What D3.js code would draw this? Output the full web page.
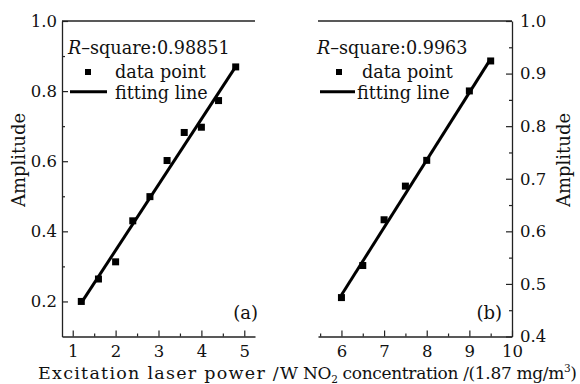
<!DOCTYPE html>
<html>
<head>
<meta charset="utf-8">
<script src="https://cdn.jsdelivr.net/npm/d3@7"></script>
<style>
  body { margin: 0; background: #fff; }
  svg { display: block; font-family: "DejaVu Serif", "Liberation Serif", serif; }
  .tick text { font-family: "DejaVu Serif", "Liberation Serif", serif; }
</style>
</head>
<body>
<div id="chart"></div>
<script>
// data
const powerW = [1.2, 1.6, 2.0, 2.4, 2.8, 3.2, 3.6, 4.0, 4.4, 4.8];
const ampA = [0.200, 0.264, 0.313, 0.430, 0.499, 0.602, 0.682, 0.697, 0.773, 0.869];
const fitA = [[1.2, 0.196], [4.8, 0.870]];

const concNO2 = [6, 6.5, 7, 7.5, 8, 9, 9.5];
const ampB = [0.474, 0.535, 0.622, 0.686, 0.735, 0.867, 0.924];
const fitB = [[6, 0.479], [9.5, 0.928]];

// ticks
const aXTicks = [1, 2, 3, 4, 5];
const aXMinor = [1.5, 2.5, 3.5, 4.5];
const aYTicks = [0.2, 0.4, 0.6, 0.8, 1.0];
const aYMinor = [0.3, 0.5, 0.7, 0.9];
const bXTicks = [6, 7, 8, 9, 10];
const bXMinor = [5.5, 6.5, 7.5, 8.5, 9.5];
const bYTicks = [0.4, 0.5, 0.6, 0.7, 0.8, 0.9, 1.0];
const bYMinor = [0.45, 0.55, 0.65, 0.75, 0.85, 0.95];

const width = 580, height = 384;
const plotTop = 21, plotBottom = 336.5;

const svg = d3.select("#chart").append("svg")
  .attr("width", width).attr("height", height);

// scales
const xA = d3.scaleLinear().domain([0.75, 5.25]).range([62, 255]);
const yA = d3.scaleLinear().domain([0.1, 1.0]).range([plotBottom, plotTop]);
const xB = d3.scaleLinear().domain([5.45, 10]).range([318, 512]);
const yB = d3.scaleLinear().domain([0.4, 1.0]).range([plotBottom, plotTop]);

const fmt1 = d3.format(".1f");

function styleAxis(g) {
  g.select(".domain").attr("stroke", "#222").attr("stroke-width", 1.3);
  g.selectAll(".tick line").attr("stroke", "#222").attr("stroke-width", 1.2);
  g.selectAll(".tick text").attr("fill", "#111").attr("font-size", 16.5);
}

function drawPanel(p) {
  const x = p.x, y = p.y;
  // major x
  const gx = svg.append("g")
    .attr("transform", `translate(0,${plotBottom})`)
    .call(d3.axisBottom(x).tickValues(p.xTicks).tickSize(-6).tickPadding(9).tickSizeOuter(0)
      .tickFormat(d3.format("d")));
  styleAxis(gx);
  const gxm = svg.append("g")
    .attr("transform", `translate(0,${plotBottom})`)
    .call(d3.axisBottom(x).tickValues(p.xMinor).tickSize(-3).tickFormat(""));
  gxm.select(".domain").remove();
  styleAxis(gxm);

  // y axis on one side
  const yx = p.side === "left" ? x.range()[0] : x.range()[1];
  const axisFn = p.side === "left" ? d3.axisLeft : d3.axisRight;
  const gy = svg.append("g")
    .attr("transform", `translate(${yx},0)`)
    .call(axisFn(y).tickValues(p.yTicks).tickSize(-6).tickPadding(p.side === "left" ? 5 : 8)
      .tickSizeOuter(0).tickFormat(fmt1));
  styleAxis(gy);
  const gym = svg.append("g")
    .attr("transform", `translate(${yx},0)`)
    .call(axisFn(y).tickValues(p.yMinor).tickSize(-3).tickFormat(""));
  gym.select(".domain").remove();
  styleAxis(gym);

  // top line
  svg.append("line")
    .attr("x1", x.range()[0]).attr("x2", x.range()[1])
    .attr("y1", plotTop).attr("y2", plotTop)
    .attr("stroke", "#222").attr("stroke-width", 1.3);

  // fitting line
  svg.append("path")
    .datum(p.fit)
    .attr("fill", "none")
    .attr("stroke", "#000")
    .attr("stroke-width", 3)
    .attr("d", d3.line().x(d => x(d[0])).y(d => y(d[1])));

  // data points
  svg.append("g").selectAll("rect")
    .data(p.xs.map((v, i) => [v, p.ys[i]]))
    .join("rect")
    .attr("x", d => x(d[0]) - 3.5)
    .attr("y", d => y(d[1]) - 3.5)
    .attr("width", 7).attr("height", 7)
    .attr("fill", "#000");

  // legend
  const lg = p.legend;
  const r2 = svg.append("text")
    .attr("x", lg.x).attr("y", 54)
    .attr("font-size", 17.6).attr("fill", "#111");
  r2.append("tspan").attr("font-style", "italic").text("R");
  r2.append("tspan").text("\u2013square:" + p.rsq);

  svg.append("rect")
    .attr("x", lg.sq - 3).attr("y", 72 - 3)
    .attr("width", 6).attr("height", 6).attr("fill", "#000");
  svg.append("text")
    .attr("x", lg.tx).attr("y", 78)
    .attr("font-size", 17.6).attr("fill", "#111")
    .text("data point");

  svg.append("line")
    .attr("x1", lg.l0).attr("x2", lg.l1)
    .attr("y1", 91.7).attr("y2", 91.7)
    .attr("stroke", "#000").attr("stroke-width", 3);
  svg.append("text")
    .attr("x", lg.tx2).attr("y", 98.5)
    .attr("font-size", 17.6).attr("fill", "#111")
    .text("fitting line");

  // panel tag
  svg.append("text")
    .attr("x", p.tag.x).attr("y", 319)
    .attr("text-anchor", "end")
    .attr("font-size", 18).attr("fill", "#111")
    .text(p.tag.t);
}

drawPanel({
  x: xA, y: yA, side: "left",
  xTicks: aXTicks, xMinor: aXMinor, yTicks: aYTicks, yMinor: aYMinor,
  xs: powerW, ys: ampA, fit: fitA, rsq: "0.98851",
  legend: { x: 68, sq: 88, tx: 115, l0: 70, l1: 107, tx2: 115 },
  tag: { x: 258, t: "(a)" }
});

drawPanel({
  x: xB, y: yB, side: "right",
  xTicks: bXTicks, xMinor: bXMinor, yTicks: bYTicks, yMinor: bYMinor,
  xs: concNO2, ys: ampB, fit: fitB, rsq: "0.9963",
  legend: { x: 317, sq: 339, tx: 362, l0: 320, l1: 355, tx2: 357 },
  tag: { x: 502, t: "(b)" }
});

// axis titles
svg.append("text")
  .attr("transform", "translate(25,160) rotate(-90)")
  .attr("text-anchor", "middle")
  .attr("font-size", 18).attr("fill", "#111")
  .text("Amplitude");

svg.append("text")
  .attr("transform", "translate(570,160) rotate(-90)")
  .attr("text-anchor", "middle")
  .attr("font-size", 18).attr("fill", "#111")
  .text("Amplitude");

svg.append("text")
  .attr("x", 38).attr("y", 379)
  .attr("font-size", 17.5).attr("fill", "#111")
  .attr("textLength", 260).attr("lengthAdjust", "spacing")
  .text("Excitation laser power /W");

const tb = svg.append("text")
  .attr("x", 303).attr("y", 379)
  .attr("font-size", 17).attr("fill", "#111")
  .attr("textLength", 274).attr("lengthAdjust", "spacing");
tb.append("tspan").text("NO");
tb.append("tspan").attr("font-size", 10.5).attr("dy", 4).text("2");
tb.append("tspan").attr("dy", -4).text(" concentration /(1.87 mg/m");
tb.append("tspan").attr("font-size", 10.5).attr("dy", -7).text("3");
tb.append("tspan").attr("dy", 7).text(")");
</script>
</body>
</html>
